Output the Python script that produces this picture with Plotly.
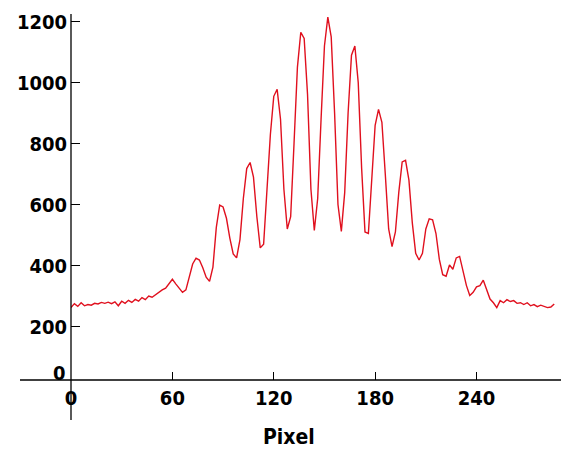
import plotly.graph_objects as go

# Pixel positions (x) and intensity values (y)
pixel = list(range(0, 288, 2))
intensity = [
    262, 275, 266, 278, 268, 272, 270, 276, 274, 279,   # 0-18
    276, 280, 275, 281, 268, 283, 276, 286, 279, 289,   # 20-38
    283, 295, 288, 300, 296, 305, 312, 320, 326, 341,   # 40-58
    355, 340, 325, 312, 320, 362, 405, 424, 418, 393,   # 60-78
    362, 348, 395, 525, 598, 592, 555, 490, 438, 425,   # 80-98
    485, 620, 718, 738, 690, 560, 458, 470, 640, 830,   # 100-118
    955, 978, 880, 650, 520, 560, 800, 1050, 1165, 1145,  # 120-138
    960, 650, 515, 620, 880, 1120, 1215, 1150, 900, 600,  # 140-158
    512, 640, 900, 1090, 1120, 1000, 720, 510, 505, 680,  # 160-178
    860, 912, 870, 700, 520, 462, 510, 640, 740, 745,   # 180-198
    680, 540, 440, 418, 440, 520, 553, 550, 505, 420,   # 200-218
    370, 365, 402, 388, 425, 430, 380, 335, 302, 312,   # 220-238
    330, 334, 352, 318, 290, 278, 262, 285, 278, 288,   # 240-258
    282, 285, 276, 278, 272, 278, 268, 272, 265, 270,   # 260-278
    266, 262, 264, 274,                                 # 280-286
]

x_ticks = [0, 60, 120, 180, 240]
y_ticks = [200, 400, 600, 800, 1000, 1200]
x_title = "Pixel"

FONT = "DejaVu Sans Condensed, DejaVu Sans, sans-serif"
FS = 20

fig = go.Figure()
fig.add_trace(go.Scatter(
    x=pixel, y=intensity, mode="lines",
    line=dict(color="#e0101e", width=1.4),
    hoverinfo="skip", showlegend=False,
))

W, H = 561, 451
L, R, T, B = 71, 0, 14, 71
plot_w = W - L - R
plot_h = H - T - B

fig.update_layout(
    width=W, height=H,
    margin=dict(l=L, r=R, t=T, b=B, pad=0),
    paper_bgcolor="white", plot_bgcolor="white",
    font=dict(family=FONT, size=FS, color="black", weight="bold"),
    xaxis=dict(
        range=[0, 290], tickvals=x_ticks, ticktext=[str(v) for v in x_ticks],
        ticks="inside", ticklen=8, tickwidth=1.2, tickcolor="black",
        showgrid=False, zeroline=False, showline=False,
        ticklabelstandoff=4,
    ),
    yaxis=dict(
        range=[24.6, 1225], tickvals=y_ticks, ticktext=[str(v) for v in y_ticks],
        ticks="inside", ticklen=9, tickwidth=1.2, tickcolor="black",
        showgrid=False, zeroline=False, showline=False,
        ticklabelstandoff=3,
    ),
    shapes=[
        # x axis line extending left past the y axis
        dict(type="line", xref="paper", yref="paper",
             x0=(20 - L) / plot_w, x1=1, y0=0, y1=0,
             line=dict(color="black", width=1.3)),
        # y axis line extending below the x axis
        dict(type="line", xref="paper", yref="paper",
             x0=0, x1=0, y0=-(420 - (H - B)) / plot_h, y1=1,
             line=dict(color="black", width=1.3)),
    ],
    annotations=[
        dict(text="0", xref="paper", yref="y", x=0, y=47.5,
             xanchor="right", yanchor="middle", xshift=-3, showarrow=False,
             font=dict(family=FONT, size=FS, color="black", weight="bold")),
        dict(text=x_title, xref="x", yref="paper", x=129, y=-(437 - (H - B)) / plot_h,
             xanchor="center", yanchor="middle", showarrow=False,
             font=dict(family=FONT, size=FS + 1, color="black")),
    ],
)

fig.write_html(
    "out.html",
    config={"displayModeBar": False},
    post_script="document.body.style.margin='0';document.body.style.overflow='hidden';",
)
